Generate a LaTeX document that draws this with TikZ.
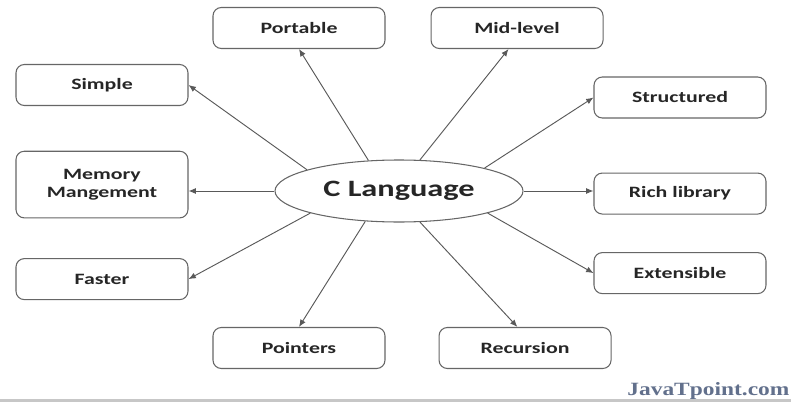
\documentclass[tikz,border=0pt]{standalone}
\usepackage{fontspec}
\setmainfont{Carlito}[FakeStretch=1.38]
\newfontfamily\markfont{Liberation Serif}[FakeStretch=1.25]
\usetikzlibrary{positioning,calc,arrows.meta,shapes.geometric}
\definecolor{markblue}{RGB}{98,112,140}

\begin{document}
\begin{tikzpicture}[
    feat/.style={rectangle, rounded corners=2.5mm, draw=black!60, line width=0.9pt, fill=white, text=black!85,
        minimum width=5.16cm, minimum height=1.23cm, font=\fontsize{13.5}{15.5}\selectfont\bfseries},
    lang/.style={ellipse, draw=black!60, line width=0.9pt, fill=white, text=black!85,
        minimum width=7.44cm, minimum height=1.86cm, font=\fontsize{20}{24}\selectfont\bfseries},
    link/.style={-{Latex[length=2.2mm, width=1.8mm]}, draw=black!65, line width=0.8pt},
    ]
    \useasboundingbox (-11.97,5.73) rectangle (11.76,-6.33);

    %% centre
    \node[lang] (clang) at (0,0) {C Language};

    %% top row
    \node[feat] (portable) at (-3.0,4.89) {Portable};
    \node[feat, right=1.35cm of portable] (midlevel) {Mid-level};

    %% left column
    \node[feat] (simple) at (-8.91,3.18) {Simple};
    \node[feat, minimum height=2cm, align=center, below=1.34cm of simple] (memory) {Memory\\Mangement};
    \node[feat, below=1.19cm of memory] (faster) {Faster};

    %% right column
    \node[feat] (structured) at (8.43,2.805) {Structured};
    \node[feat, below=1.62cm of structured] (rich) {Rich library};
    \node[feat, below=1.125cm of rich] (extensible) {Extensible};

    %% bottom row
    \node[feat] (pointers) at (-3.0,-4.71) {Pointers};
    \node[feat, right=1.59cm of pointers] (recursion) {Recursion};

    %% arrows out of the centre
    % upper half
    \draw[link] (clang.167) to (simple.east);
    \draw[link] (clang.135) to (portable.south);
    \draw[link] (clang.56)  to (midlevel.248);
    \draw[link] (clang.15)  to (structured.west);
    % middle
    \draw[link] (clang.west) to (clang.west -| memory.east);
    \draw[link] (clang.east) to (clang.east -| rich.west);
    % lower half
    \draw[link] (clang.194) to (faster.east);
    \draw[link] (clang.346) to (extensible.west);
    \draw[link] (clang.222) to (pointers.north);
    \draw[link] (clang.304) to (recursion.110);

    %% footer
    \fill[black!22] (-11.97,-6.24) rectangle (11.76,-6.33);
    \node[anchor=base east, inner sep=0pt, text=markblue, font=\markfont\bfseries\fontsize{16}{18}\selectfont] (mark) at (11.72,-6.12) {JavaTpoint.com};

\end{tikzpicture}
\end{document}
